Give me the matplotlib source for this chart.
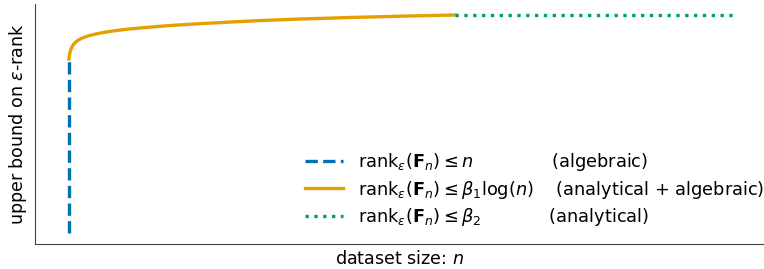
import matplotlib.pyplot as plt
import numpy as np

# values (arbitrary units, no ticks shown)
n_alg = [34, 34]
r_alg = [11, 185]

n_mix = [34, 34.5, 35.2, 36.2, 37.5, 39, 41, 43.5, 46.5, 50, 55, 62, 70, 80,
         92, 105, 120, 140, 165, 190, 220, 260, 315, 365, 420]
r_mix = [185, 189, 192.5, 195.5, 198, 200.2, 202.2, 204, 205.6, 207, 208.6,
         210.3, 211.8, 213.3, 214.8, 216, 217.3, 218.8, 220.3, 221.7, 223.2,
         224.8, 226.5, 227.8, 229]

n_ana = [420, 702]
r_ana = [229, 229]

labels = [
    r"rank$_\varepsilon(\mathbf{F}_n) \leq n$" + " " * 14 + "(algebraic)",
    r"rank$_\varepsilon(\mathbf{F}_n) \leq \beta_1 \log(n)$" + " " * 4 + "(analytical + algebraic)",
    r"rank$_\varepsilon(\mathbf{F}_n) \leq \beta_2$" + " " * 12 + "(analytical)",
]

fig = plt.figure(figsize=(7.64, 2.69), dpi=100)
ax = fig.add_axes([35 / 764, 25 / 269, 729 / 764, 240 / 269])

lw = 2.4
ax.plot(n_alg, r_alg, "--", color="#0072B2", linewidth=lw, label=labels[0])
ax.plot(n_mix, r_mix, "-", color="#E69F00", linewidth=lw, label=labels[1])
ax.plot(n_ana, r_ana, ":", color="#009E73", linewidth=lw, label=labels[2])

ax.set_xlim(0, 729)
ax.set_ylim(0, 240)
ax.set_xticks([])
ax.set_yticks([])
for s in ["top", "right"]:
    ax.spines[s].set_visible(False)
for s in ["left", "bottom"]:
    ax.spines[s].set_color("#444444")

ax.set_xlabel(r"dataset size: $n$", fontsize=12.6)
ax.set_ylabel(r"upper bound on $\varepsilon$-rank", fontsize=12.6)
ax.legend(loc="lower right", bbox_to_anchor=(1.022, 0.0), frameon=False,
          fontsize=12.8, labelspacing=0.3, handlelength=2.15)

fig.savefig("out.png", dpi=100)
